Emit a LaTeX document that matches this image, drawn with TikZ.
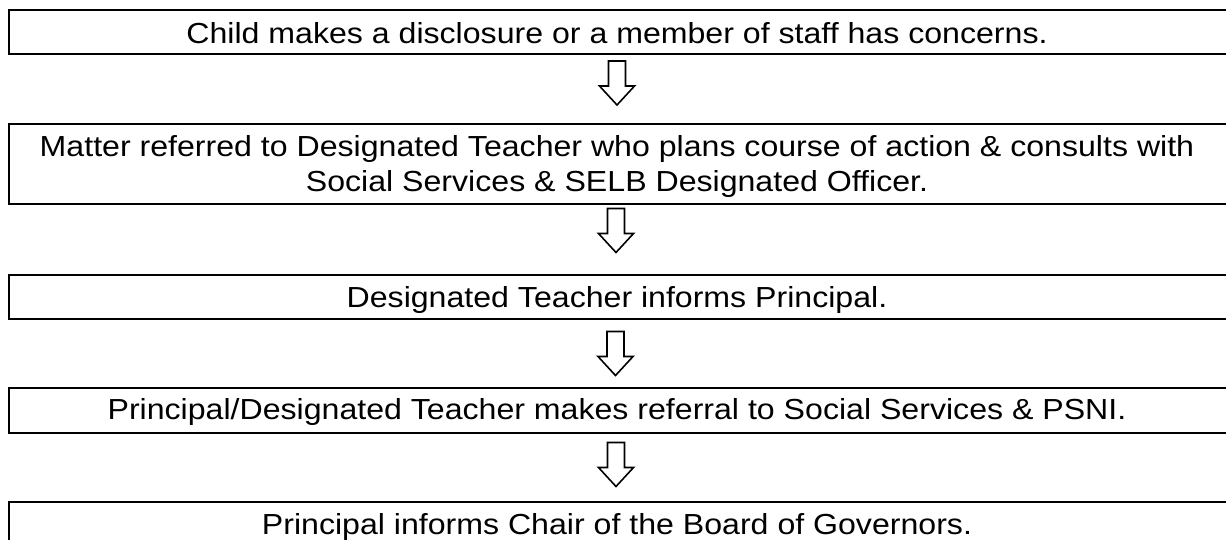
\documentclass[tikz,border=0pt]{standalone}
\usepackage{fontspec}
\setmainfont[FakeStretch=1.107]{Liberation Sans}
\begin{document}
\begin{tikzpicture}[x=1pt,y=-1pt,
  stepbox/.style={draw=black,line width=2pt,minimum width=1219.5pt,inner sep=0pt,outer sep=0pt},
  steptext/.style={anchor=base,inner sep=0pt,font=\fontsize{29}{35}\selectfont},
  downarrow/.pic={
    \draw[line width=1.6pt,line join=miter,fill=white]
      (-8.5,0) -- (8.5,0) -- (8.5,25) -- (17.5,25) -- (0,44) -- (-17.5,25) -- (-8.5,25) -- cycle;
  }]
\useasboundingbox (0,0) rectangle (1226,540);
\clip (0,0) rectangle (1226,540);

% boxes of the procedure
\node[stepbox,minimum height=44pt]   (b1) at (618.25,32.5)  {};
\node[stepbox,minimum height=80pt]   (b2) at (618.25,164)   {};
\node[stepbox,minimum height=43.7pt] (b3) at (618.25,297.15) {};
\node[stepbox,minimum height=45.2pt] (b4) at (618.25,410.1) {};
\node[stepbox,minimum height=44pt]   (b5) at (618.25,523.7) {};

% texts
\node[steptext] (t1) at (617,43.3) {Child makes a disclosure or a member of staff has concerns.};
\node[steptext] (t2a) at (617,157) {Matter referred to Designated Teacher who plans course of action \& consults with};
\node[steptext] (t2b) at (617,192) {Social Services \& SELB Designated Officer.};
\node[steptext] (t3) at (617,307.5) {Designated Teacher informs Principal.};
\node[steptext] (t4) at (617,419) {Principal/Designated Teacher makes referral to Social Services \& PSNI.};
\node[steptext] (t5) at (617,534) {Principal informs Chair of the Board of Governors.};

% block arrows between the boxes
\coordinate (a1) at (617,61);
\coordinate (a2) at (616,208.5);
\coordinate (a3) at (615.5,331.5);
\coordinate (a4) at (616,442.5);
\pic at (a1) {downarrow};
\pic at (a2) {downarrow};
\pic at (a3) {downarrow};
\pic at (a4) {downarrow};
\end{tikzpicture}
\end{document}
